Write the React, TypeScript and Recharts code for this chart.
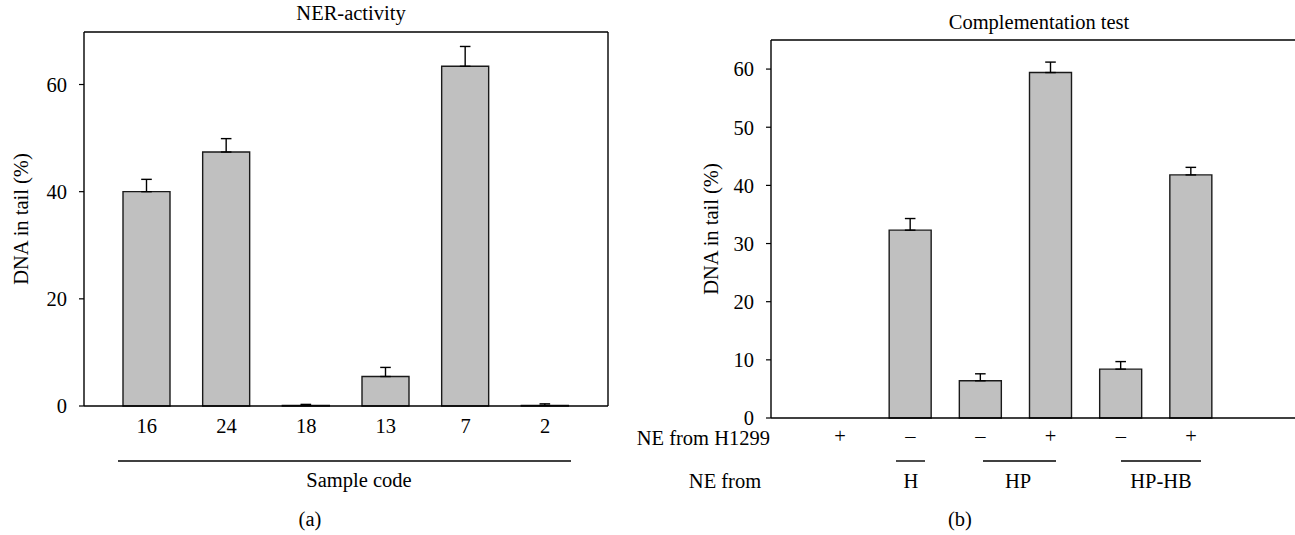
import { BarChart, Bar, XAxis, YAxis, ErrorBar, CartesianGrid } from 'recharts';

// (a) NER-activity
const nerCodes = ['16', '24', '18', '13', '7', '2'];
const nerValues = [40.0, 47.4, 0.1, 5.5, 63.4, 0.1];
const nerErrors = [2.3, 2.5, 0.2, 1.7, 3.7, 0.3];
const nerTicks = [0, 20, 40, 60];

// (b) Complementation test
const compH1299 = ['+', '–', '–', '+', '–', '+'];
const compValues = [0, 32.3, 6.4, 59.4, 8.4, 41.8];
const compErrors = [0, 2.0, 1.2, 1.8, 1.3, 1.3];
const compTicks = [0, 10, 20, 30, 40, 50, 60];

const serif = '"Liberation Serif", "DejaVu Serif", serif';
const fs = 20.5;
const tickStyle = { fontSize: fs, fill: '#000', fontFamily: serif };
const axisLine = { stroke: '#000', strokeWidth: 1.4 };
const barFill = '#c0c0c0';
const barStroke = '#1a1a1a';
const yLabelStyle = { textAnchor: 'middle', fontSize: fs, fontFamily: serif, fill: '#000' } as const;

const nerData = nerCodes.map((code, i) => ({ code, value: nerValues[i], err: [0, nerErrors[i]] }));
const compData = compValues.map((value, i) => ({ id: `c${i}`, value, err: [0, compErrors[i]] }));

// top + right edge of the plot box
const frameTop = ({ offset }: any) => [offset.top];
const frameRight = ({ offset }: any) => [offset.left + offset.width];

function NerChart() {
  return (
    <BarChart width={630} height={535} data={nerData} margin={{ top: 32, right: 22, bottom: 99, left: 16 }}>
      <CartesianGrid
        stroke="#000"
        strokeWidth={1.4}
        horizontalCoordinatesGenerator={frameTop}
        verticalCoordinatesGenerator={frameRight}
      />
      <XAxis
        dataKey="code"
        tick={tickStyle}
        tickLine={false}
        tickSize={5}
        tickMargin={7}
        axisLine={axisLine}
        padding={{ left: 23, right: 23 }}
        height={30}
      />
      <YAxis
        domain={[0, 69.8]}
        ticks={nerTicks}
        tick={tickStyle}
        tickLine={{ stroke: '#000', strokeWidth: 1.2 }}
        tickSize={5}
        tickMargin={12}
        axisLine={axisLine}
        width={68}
        label={{ value: 'DNA in tail (%)', angle: -90, position: 'insideLeft', style: yLabelStyle }}
      />
      <Bar dataKey="value" fill={barFill} stroke={barStroke} strokeWidth={1.4} barSize={47} isAnimationActive={false}>
        <ErrorBar dataKey="err" direction="y" width={5.3} stroke="#000" strokeWidth={1.4} isAnimationActive={false} />
      </Bar>
    </BarChart>
  );
}

function CompChart() {
  return (
    <BarChart width={700} height={535} data={compData} margin={{ top: 40, right: 20, bottom: 87, left: 46 }}>
      <CartesianGrid stroke="#000" strokeWidth={1.4} horizontalCoordinatesGenerator={frameTop} vertical={false} />
      <XAxis
        dataKey="id"
        tickFormatter={(_v: string, i: number) => compH1299[i]}
        tick={tickStyle}
        tickLine={false}
        tickSize={5}
        tickMargin={5}
        axisLine={axisLine}
        padding={{ left: 34, right: 114 }}
        height={30}
      />
      <YAxis
        domain={[0, 65]}
        ticks={compTicks}
        tick={tickStyle}
        tickLine={{ stroke: '#000', strokeWidth: 1.2 }}
        tickSize={5}
        tickMargin={12}
        axisLine={axisLine}
        width={65}
        label={{ value: 'DNA in tail (%)', angle: -90, position: 'insideLeft', style: yLabelStyle }}
      />
      <Bar dataKey="value" fill={barFill} stroke={barStroke} strokeWidth={1.4} barSize={42} isAnimationActive={false}>
        <ErrorBar dataKey="err" direction="y" width={5.3} stroke="#000" strokeWidth={1.4} isAnimationActive={false} />
      </Bar>
    </BarChart>
  );
}

export default function App() {
  const txt = { fontSize: fs, fontFamily: serif, fill: '#000' };
  const rule = { stroke: '#000', strokeWidth: 1.4 };
  return (
    <div style={{ position: 'absolute', left: 0, top: 0, width: 1295, height: 535, overflow: 'hidden', background: '#fff' }}>
      <div style={{ position: 'absolute', left: 0, top: 0 }}>
        <NerChart />
      </div>
      <div style={{ position: 'absolute', left: 660, top: 0 }}>
        <CompChart />
      </div>
      <svg width={1295} height={535} style={{ position: 'absolute', left: 0, top: 0, pointerEvents: 'none' }}>
        {/* panel (a) annotations */}
        <text x={351} y={20} textAnchor="middle" {...txt}>NER-activity</text>
        <line x1={118} y1={461} x2={571} y2={461} {...rule} />
        <text x={359} y={487} textAnchor="middle" {...txt}>Sample code</text>
        <text x={310} y={526} textAnchor="middle" {...txt}>(a)</text>
        {/* panel (b) annotations */}
        <text x={1039} y={29} textAnchor="middle" {...txt}>Complementation test</text>
        <text x={770} y={445} textAnchor="end" {...txt}>NE from H1299</text>
        <line x1={896} y1={461} x2={925} y2={461} {...rule} />
        <line x1={983} y1={461} x2={1056} y2={461} {...rule} />
        <line x1={1121} y1={461} x2={1201} y2={461} {...rule} />
        <text x={725} y={488} textAnchor="middle" {...txt}>NE from</text>
        <text x={911} y={488} textAnchor="middle" {...txt}>H</text>
        <text x={1018} y={488} textAnchor="middle" {...txt}>HP</text>
        <text x={1161} y={488} textAnchor="middle" {...txt}>HP-HB</text>
        <text x={960} y={526} textAnchor="middle" {...txt}>(b)</text>
      </svg>
    </div>
  );
}
